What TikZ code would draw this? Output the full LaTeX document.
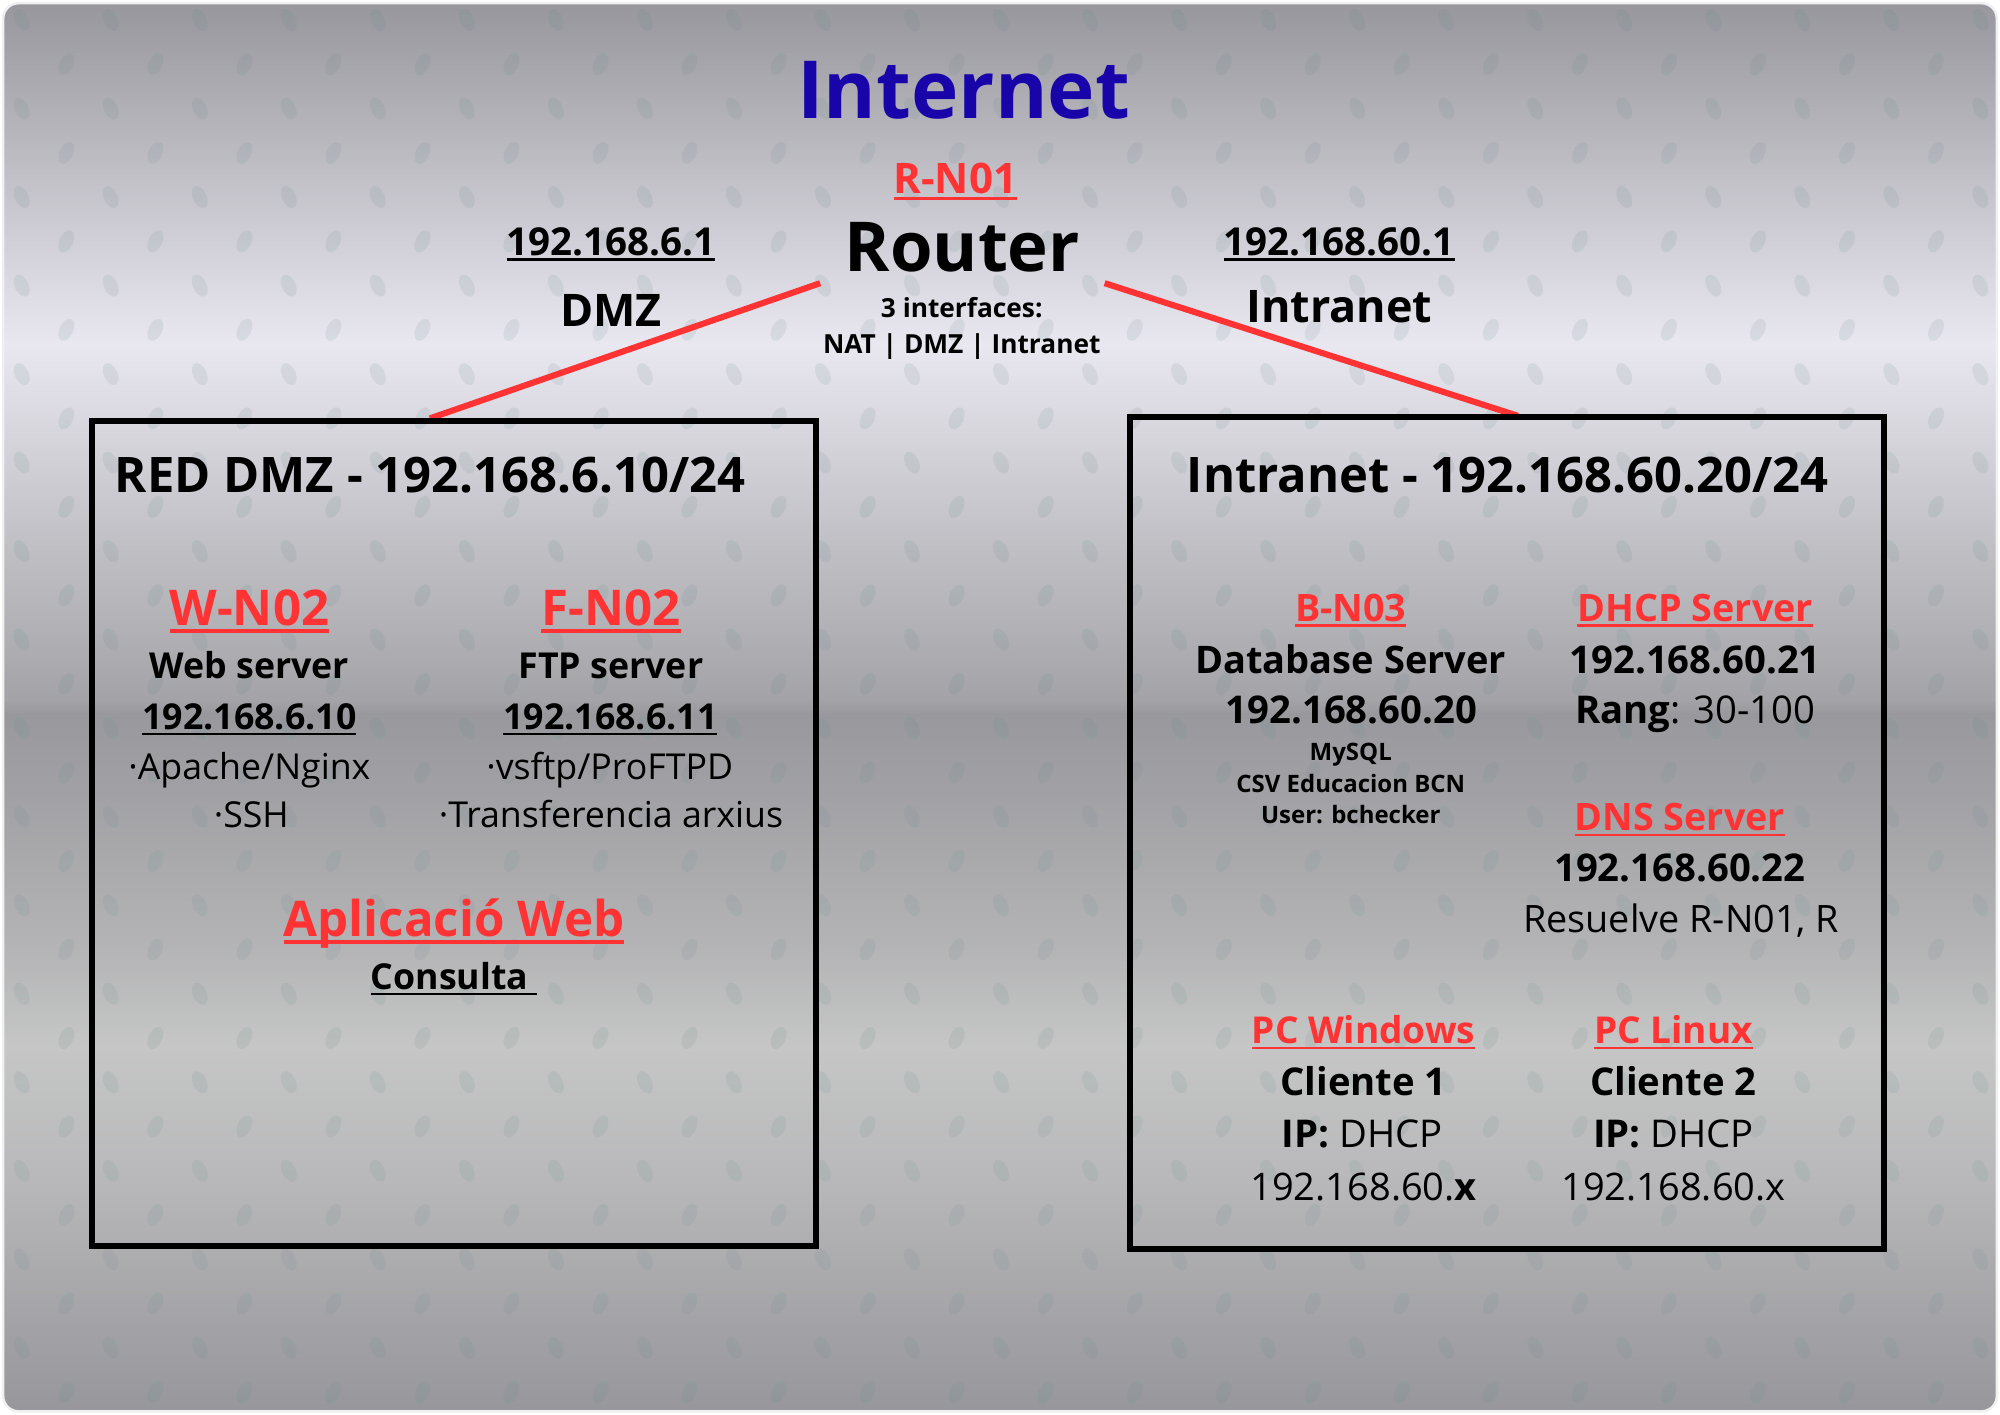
\documentclass[tikz,border=0pt]{standalone}
\usepackage{fontspec}
\setmainfont{Open Sans}
\definecolor{netred}{RGB}{255,51,51}
\definecolor{netblue}{RGB}{24,4,168}
\definecolor{leafc}{RGB}{105,140,140}
\definecolor{bgA}{RGB}{150,150,156}
\definecolor{bgB}{RGB}{190,189,196}
\definecolor{bgC}{RGB}{233,231,240}
\definecolor{bgD}{RGB}{192,192,197}
\definecolor{bgE}{RGB}{176,176,181}
\definecolor{bgF}{RGB}{162,162,167}
\definecolor{bgG}{RGB}{152,152,157}
\definecolor{bgH}{RGB}{180,180,182}
\definecolor{bgI}{RGB}{197,198,197}
\definecolor{bgJ}{RGB}{185,185,187}
\definecolor{bgK}{RGB}{150,150,155}
\newcommand\ulx[1]{\setbox0=\hbox{#1}\rlap{\vrule height -0.085em depth 0.155em width \wd0}\box0}
\tikzset{
  txt/.style={anchor=base, inner sep=0pt, outer sep=0pt},
  bt/.style={txt, font=\fontsize{#1pt}{#1pt}\selectfont\bfseries},
  rt/.style={txt, font=\fontsize{#1pt}{#1pt}\selectfont},
  redt/.style={bt=#1, text=netred},
  netbox/.style={draw=black, line width=2.4pt, inner sep=0pt, outer sep=0pt},
  link/.style={draw=netred, line width=2.4pt},
}
\begin{document}
\begin{tikzpicture}[x=0.5pt, y=-0.5pt]
\useasboundingbox (0,0) rectangle (1568,1109);
\fill[white] (0,0) rectangle (1568,1109);
\begin{scope}
  \clip[rounded corners=6pt] (2.5,2.5) rectangle (1565.5,1106.5);
  \shade[top color=bgA, bottom color=bgB] (0,0) rectangle (1568,128);
  \shade[top color=bgB, bottom color=bgC] (0,127.5) rectangle (1568,270);
  \shade[top color=bgC, bottom color=bgD] (0,269.5) rectangle (1568,425);
  \shade[top color=bgD, bottom color=bgE] (0,424.5) rectangle (1568,496);
  \shade[top color=bgE, bottom color=bgF] (0,495.5) rectangle (1568,550);
  \shade[top color=bgF, bottom color=bgG] (0,549.5) rectangle (1568,560);
  \shade[top color=bgG, bottom color=bgH] (0,559.5) rectangle (1568,743);
  \shade[top color=bgH, bottom color=bgI] (0,742.5) rectangle (1568,821);
  \shade[top color=bgI, bottom color=bgJ] (0,820.5) rectangle (1568,920);
  \shade[top color=bgJ, bottom color=bgK] (0,919.5) rectangle (1568,1109);
  \foreach \r in {0,...,31}{
    \foreach \c in {0,...,22}{
      \pgfmathsetmacro\xx{17+69.8*\c+mod(\r,2)*35}
      \pgfmathsetmacro\yy{15.7+34.7*\r}
      \pgfmathsetmacro\ang{25-50*mod(\r,2)}
      \fill[leafc, opacity=0.13, rotate around={\ang:(\xx,\yy)}] (\xx,\yy) ellipse [x radius=2.7pt, y radius=4.6pt];
    }
  }
\end{scope}
\draw[white!88!gray, line width=1pt, rounded corners=6pt] (2.5,2.5) rectangle (1565.5,1106.5);

% connectors
\coordinate (rtL) at (643,222);
\coordinate (rtR) at (866,222);
\coordinate (dmzIn) at (337,328);
\coordinate (lanIn) at (1190,326);
\draw[link] (rtL) -- (dmzIn);
\draw[link] (rtR) -- (lanIn);

% boxes
\node[netbox, minimum width=284pt, minimum height=323.5pt] (dmzbox) at (356,653.5) {};
\node[netbox, minimum width=295.5pt, minimum height=326pt] (lanbox) at (1181.5,653) {};

% top
\node[bt=31.4, text=netblue] (inet) at (755.5,93) {Internet};
\node[redt=16.5] (rn01) at (749,152) {\ulx{R-N01}};
\node[bt=27] (router) at (754.5,213) {Router};
\node[bt=10.3] (rif1) at (754,249) {3 interfaces:};
\node[bt=10.3] (rif2) at (754,277) {NAT | DMZ | Intranet};
\node[bt=15.1] (ipdmz) at (479,200) {\ulx{192.168.6.1}};
\node[bt=17.6] (dmzl) at (479,256) {DMZ};
\node[bt=15.1] (iplan) at (1050,200) {\ulx{192.168.60.1}};
\node[bt=17.6] (lanl) at (1050,253) {Intranet};

% DMZ box
\node[bt=19.2, anchor=base west] (dmzt) at (90,386) {RED DMZ - 192.168.6.10/24};
\node[redt=19.3] (wn02) at (195.5,490) {\ulx{W-N02}};
\node[redt=19.3] (fn02) at (479,490) {\ulx{F-N02}};
\node[bt=14] (wsrv) at (195.5,532) {Web server};
\node[bt=14] (fsrv) at (479,532) {FTP server};
\node[bt=14] (wip) at (195.5,572) {\ulx{192.168.6.10}};
\node[bt=14] (fip) at (478.5,572) {\ulx{192.168.6.11}};
\node[rt=14] (wa) at (195.5,611) {·Apache/Nginx};
\node[rt=14] (fa) at (478,611) {·vsftp/ProFTPD};
\node[rt=14] (wb) at (197,649) {·SSH};
\node[rt=14] (fb) at (479,649) {·Transferencia arxius};
\node[redt=19.3] (app) at (356,734) {\ulx{Aplicació Web}};
\node[bt=14] (cons) at (356,776) {\ulx{Consulta\ }};

% Intranet box
\node[bt=19.2] (lant) at (1182,386) {Intranet - 192.168.60.20/24};
\node[redt=14.8] (bn03) at (1059,487) {\ulx{B-N03}};
\node[redt=14.8] (dhcp) at (1329,487) {\ulx{DHCP Server}};
\node[bt=14.9] (dbs) at (1059,528) {Database Server};
\node[bt=15] (dhip) at (1329,528) {192.168.60.21};
\node[bt=15] (dbip) at (1059.5,567) {192.168.60.20};
\node[rt=15] (rang) at (1329,567) {{\bfseries Rang}: 30-100};
\node[bt=9.4] (db1) at (1059,596) {MySQL};
\node[bt=9.4] (db2) at (1059,621) {CSV Educacion BCN};
\node[bt=9.4] (db3) at (1059,646) {User: bchecker};
\node[redt=14.8] (dns) at (1317,651) {\ulx{DNS Server}};
\node[bt=15] (dnsip) at (1317,691) {192.168.60.22};
\node[rt=14.8] (dnsr) at (1318,731) {Resuelve R-N01, R};
\node[redt=14.5] (pcw) at (1069,818) {\ulx{PC Windows}};
\node[redt=14.5] (pcl) at (1312,818) {\ulx{PC Linux}};
\node[bt=15] (c1) at (1069,859) {Cliente 1};
\node[bt=15] (c2) at (1312,859) {Cliente 2};
\node[rt=15] (ip1) at (1068,900) {{\bfseries IP:} DHCP};
\node[rt=15] (ip2) at (1312,900) {{\bfseries IP:} DHCP};
\node[rt=14.9] (x1) at (1069,941) {192.168.60.{\bfseries x}};
\node[rt=14.9] (x2) at (1312,941) {192.168.60.x};
\end{tikzpicture}
\end{document}
